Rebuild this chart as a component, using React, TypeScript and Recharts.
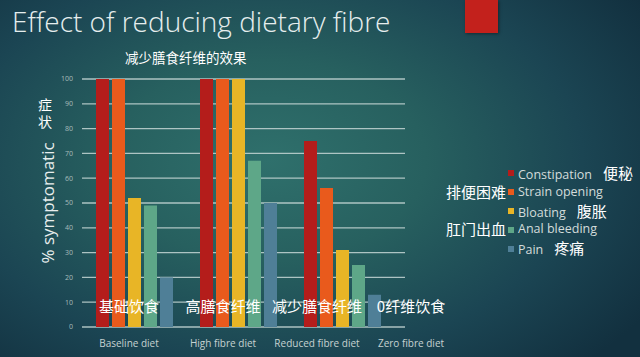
import React from 'react'
import {
  BarChart,
  Bar,
  XAxis,
  YAxis,
  CartesianGrid,
  Legend,
  Label,
} from 'recharts'

const categories = ['Baseline diet', 'High fibre diet', 'Reduced fibre diet', 'Zero fibre diet']
const categoriesZh = ['基础饮食', '高膳食纤维', '减少膳食纤维', '0纤维饮食']

const constipation = [100, 100, 75, 0]
const strainOpening = [100, 100, 56, 0]
const bloating = [52, 100, 31, 0]
const analBleeding = [49, 67, 25, 0]
const pain = [20, 50, 13, 0]

const seriesNames = ['Constipation', 'Strain opening', 'Bloating', 'Anal bleeding', 'Pain']
const seriesZh = ['便秘', '排便困难', '腹胀', '肛门出血', '疼痛']
const yTicks = [0, 10, 20, 30, 40, 50, 60, 70, 80, 90, 100]

const SERIES_COLORS = ['#b41d1b', '#e95a1c', '#e8b526', '#5ea788', '#4f7f97']
const SERIES_KEYS = ['constipation', 'strainOpening', 'bloating', 'analBleeding', 'pain']

const chartData = categories.map((name, i) => ({
  name,
  constipation: constipation[i],
  strainOpening: strainOpening[i],
  bloating: bloating[i],
  analBleeding: analBleeding[i],
  pain: pain[i],
}))

const CJK = '"Noto Sans CJK SC", sans-serif'
const LATIN = '"Open Sans", sans-serif'

function CategoryTick(props: any) {
  const { x, y, payload, index } = props
  return (
    <g>
      <text
        x={x}
        y={y - 45}
        textAnchor="middle"
        fill="#ffffff"
        fontSize={15}
        fontFamily={CJK}
      >
        {categoriesZh[index]}
      </text>
      <text
        x={x}
        y={y - 10}
        textAnchor="middle"
        fill="#c6d2d1"
        fontSize={10}
        fontFamily={LATIN}
      >
        {payload.value}
      </text>
    </g>
  )
}

function LegendContent(props: any) {
  const items = [...(props.payload || [])].sort(
    (a: any, b: any) => seriesNames.indexOf(a.value) - seriesNames.indexOf(b.value)
  )
  return (
    <div style={{ position: 'relative', width: 240 }}>
      {items.map((entry: any) => {
        const i = seriesNames.indexOf(entry.value)
        const leftSide = i % 2 === 1
        return (
          <div key={entry.value} style={{ position: 'relative', height: 18.8 }}>
            {leftSide && (
              <span
                style={{
                  position: 'absolute',
                  right: 134,
                  top: 0,
                  lineHeight: '18.8px',
                  fontSize: 15,
                  color: '#ffffff',
                  fontFamily: CJK,
                  whiteSpace: 'nowrap',
                }}
              >
                {seriesZh[i]}
              </span>
            )}
            <span
              style={{
                position: 'absolute',
                left: 108,
                top: 6.4,
                width: 6,
                height: 6,
                background: entry.color,
              }}
            />
            <span
              style={{
                position: 'absolute',
                left: 118,
                top: 0,
                lineHeight: '18.8px',
                fontSize: 12.5,
                color: '#d3dcdb',
                fontFamily: LATIN,
                whiteSpace: 'nowrap',
              }}
            >
              {entry.value}
              {!leftSide && (
                <span style={{ marginLeft: 11, fontSize: 15, color: '#ffffff', fontFamily: CJK }}>
                  {seriesZh[i]}
                </span>
              )}
            </span>
          </div>
        )
      })}
    </div>
  )
}

export default function App() {
  return (
    <div
      style={{
        position: 'absolute',
        left: 0,
        top: 0,
        width: 640,
        height: 357,
        overflow: 'hidden',
        background:
          'radial-gradient(ellipse 70% 80% at 42% 45%, #2f706c 0%, #27605f 35%, #1b4553 70%, #12303f 100%)',
      }}
    >
      <div
        style={{
          position: 'absolute',
          left: 12,
          top: 1,
          fontFamily: LATIN,
          fontWeight: 300,
          fontSize: 28,
          color: '#e6eeee',
          whiteSpace: 'nowrap',
          lineHeight: '40px',
        }}
      >
        Effect of reducing dietary fibre
      </div>
      <div
        style={{
          position: 'absolute',
          left: 465,
          top: 0,
          width: 33,
          height: 33,
          background: '#c3211c',
          boxShadow: '1px 1px 3px rgba(0,0,0,0.4)',
        }}
      />
      <div
        style={{
          position: 'absolute',
          left: 125,
          top: 47,
          fontFamily: CJK,
          fontSize: 13.5,
          color: '#ffffff',
          lineHeight: '20px',
          whiteSpace: 'nowrap',
        }}
      >
        减少膳食纤维的效果
      </div>
      <div
        style={{
          position: 'absolute',
          left: 38,
          top: 96,
          width: 16,
          fontFamily: CJK,
          fontSize: 14,
          color: '#ffffff',
          lineHeight: '17px',
        }}
      >
        症<br />状
      </div>
      <div style={{ position: 'absolute', left: 0, top: 0 }}>
        <BarChart
          width={640}
          height={357}
          data={chartData}
          margin={{ top: 79, right: 142, bottom: 0, left: 0 }}
          barSize={13}
          barGap={3}
        >
          <CartesianGrid
            xAxisId="bars"
            horizontal
            vertical={false}
            x={82}
            width={323}
            stroke="#bccfce"
            strokeOpacity={0.9}
            strokeWidth={1.3}
          />
          <XAxis xAxisId="bars" dataKey="name" hide />
          <XAxis
            xAxisId="lbl"
            dataKey="name"
            height={30}
            axisLine={false}
            tickLine={false}
            tickSize={0}
            tickMargin={0}
            interval={0}
            padding={{ left: 0, right: 40 }}
            tick={<CategoryTick />}
          />
          <YAxis
            width={82}
            domain={[0, 100]}
            ticks={yTicks}
            axisLine={false}
            tickLine={false}
            tickSize={0}
            tickMargin={9}
            tick={{ fontSize: 7, fill: '#a9bcbb', fontFamily: LATIN }}
          >
            <Label
              value="% symptomatic"
              angle={-90}
              position="insideLeft"
              offset={48}
              style={{ fontSize: 17, fill: '#e8eeee', fontFamily: LATIN, textAnchor: 'middle' }}
            />
          </YAxis>
          <Legend
            layout="vertical"
            align="center"
            verticalAlign="middle"
            wrapperStyle={{ position: 'absolute', left: 400, top: 164, width: 240 }}
            content={<LegendContent />}
          />
          {SERIES_KEYS.map((key, i) => (
            <Bar
              key={key}
              xAxisId="bars"
              dataKey={key}
              name={seriesNames[i]}
              fill={SERIES_COLORS[i]}
              isAnimationActive={false}
            />
          ))}
        </BarChart>
      </div>
    </div>
  )
}
